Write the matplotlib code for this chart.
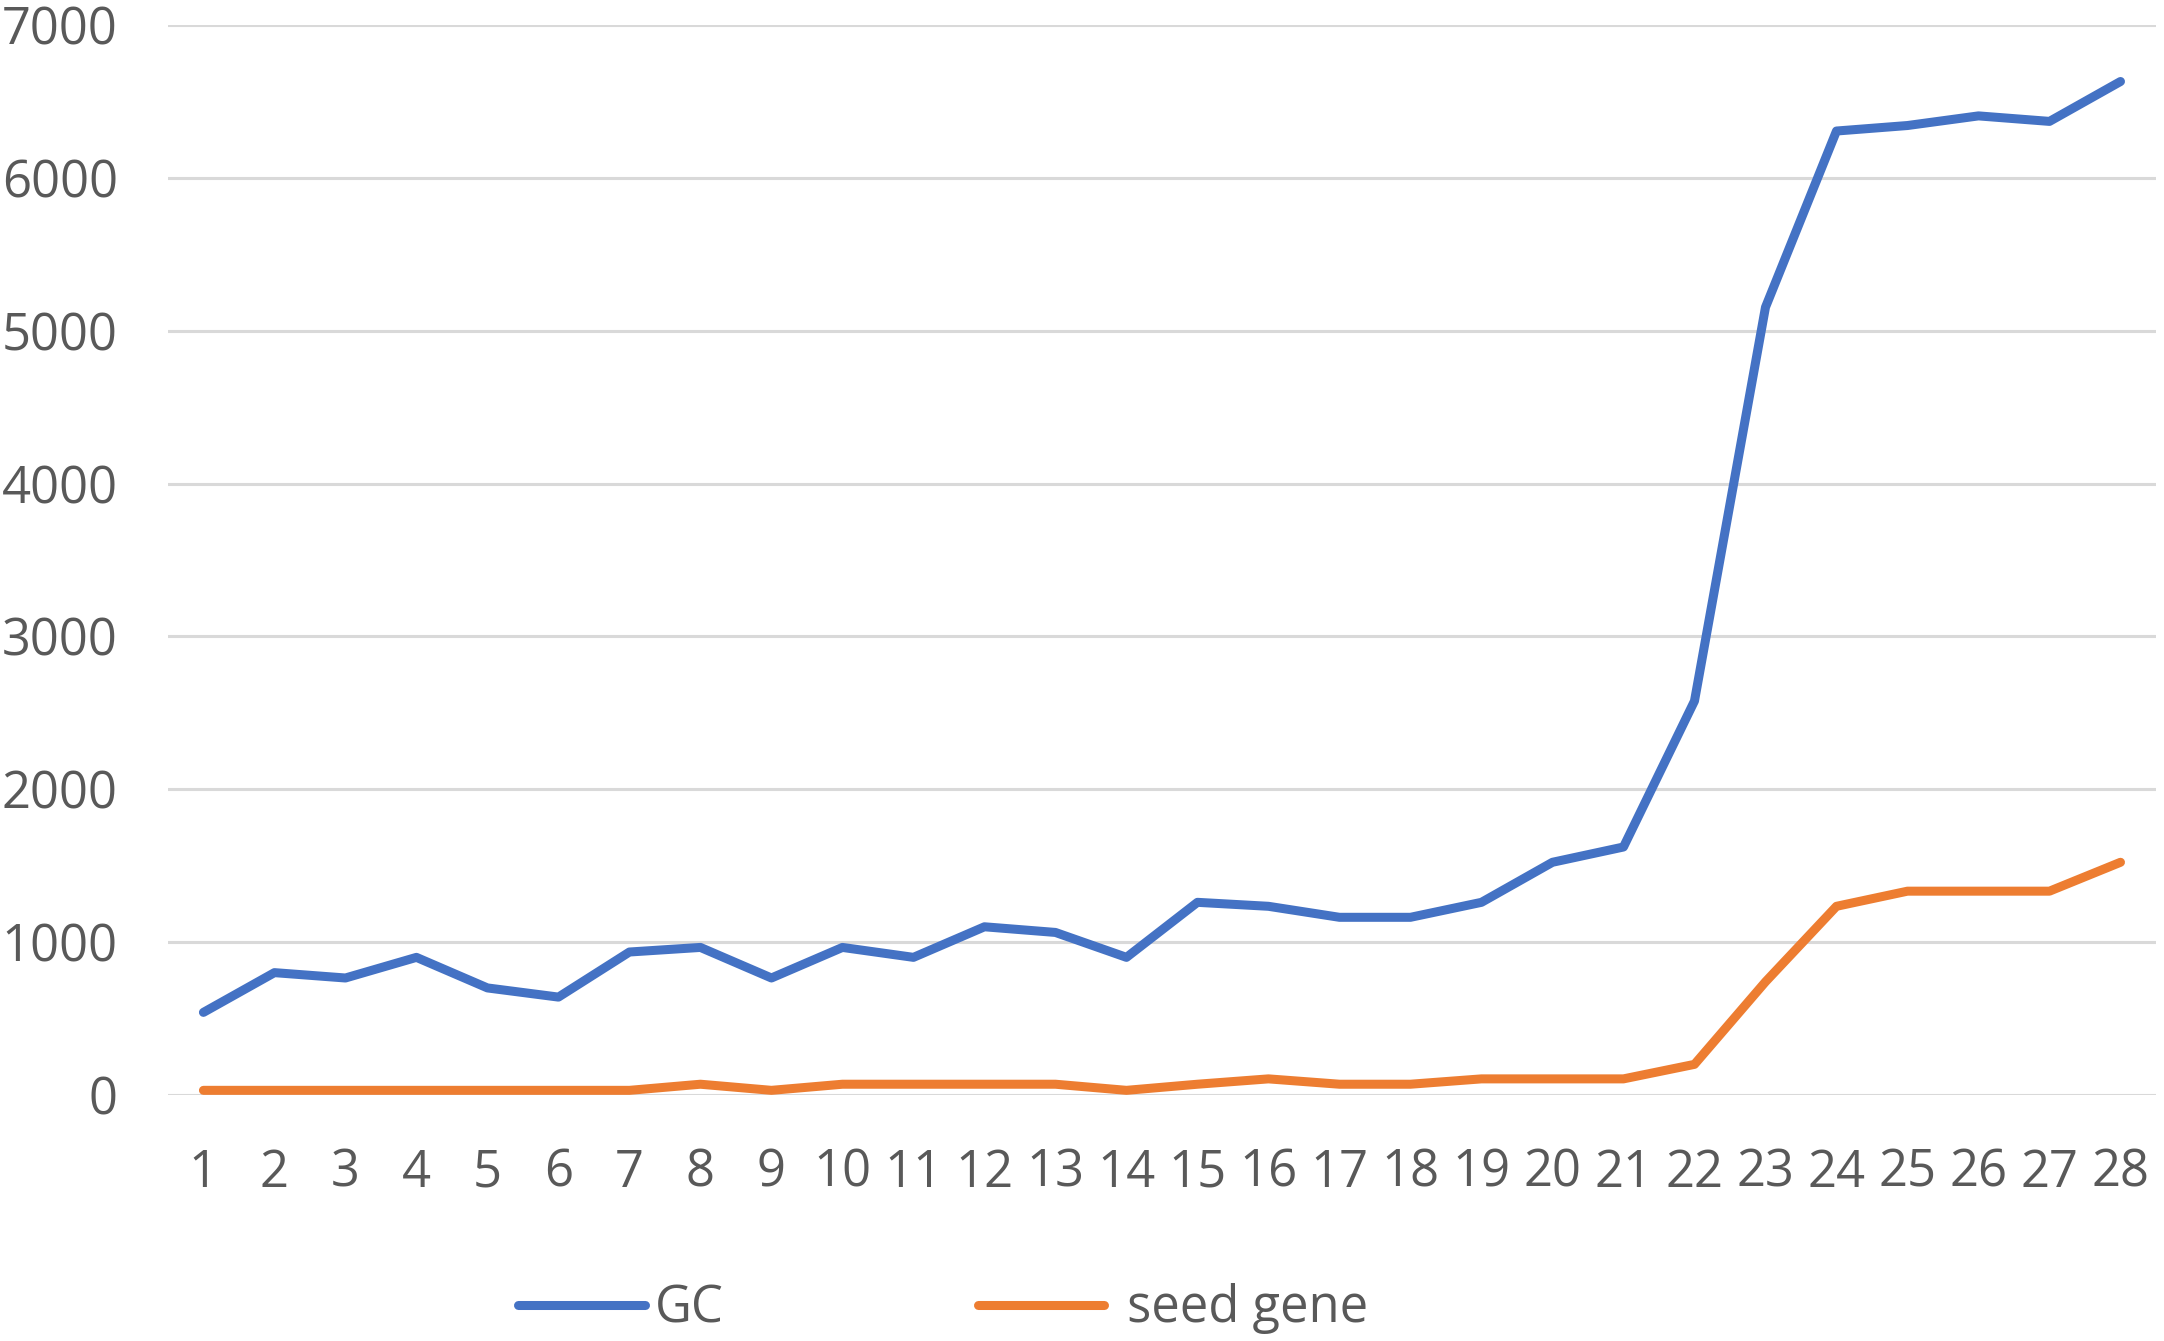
import matplotlib
matplotlib.use("Agg")
import matplotlib.pyplot as plt

plt.rcParams['font.family'] = ['Open Sans', 'DejaVu Sans']

# data
samples = list(range(1, 29))
gc = [540, 800, 765, 900, 700, 640, 935, 965, 765, 965,
      900, 1100, 1063, 900, 1260, 1234, 1162, 1162, 1260, 1522,
      1622, 2577, 5153, 6306, 6342, 6405, 6369, 6630]
seed_gene = [30, 30, 30, 30, 30, 30, 30, 70, 30, 70,
             70, 70, 70, 30, 70, 105, 70, 70, 105, 105,
             105, 200, 740, 1234, 1333, 1333, 1333, 1522]
yticks = [0, 1000, 2000, 3000, 4000, 5000, 6000, 7000]

txt = '#595959'
fs = 36.5

fig = plt.figure(figsize=(21.64, 13.41), dpi=100)
ax = fig.add_axes([0.0776, 0.1835, 0.9187, 0.7979])

ax.plot(samples, gc, color='#4472C4', lw=6.5, solid_capstyle='round',
        solid_joinstyle='round', label='GC', zorder=3)
ax.plot(samples, seed_gene, color='#ED7D31', lw=6.5, solid_capstyle='round',
        solid_joinstyle='round', label=' seed gene', zorder=3)

ax.set_xlim(0.5, 28.5)
ax.set_ylim(0, 7000)
ax.set_yticks(yticks)
ax.set_xticks(samples)
ax.set_xticklabels([str(s) for s in samples])
ax.grid(axis='y', color='#D9D9D9', lw=2.2)
ax.set_axisbelow(True)
for sp in ax.spines.values():
    sp.set_visible(False)
ax.tick_params(axis='both', length=0, labelsize=fs, labelcolor=txt)
ax.tick_params(axis='y', pad=36)
ax.tick_params(axis='x', pad=38)

leg = fig.legend(loc='center', bbox_to_anchor=(0.436, 0.024), ncol=2,
                 frameon=False, fontsize=fs, handlelength=2.5,
                 handletextpad=0.2, columnspacing=5.0)
for t in leg.get_texts():
    t.set_color(txt)

fig.savefig('out.png', dpi=100, facecolor='white')
